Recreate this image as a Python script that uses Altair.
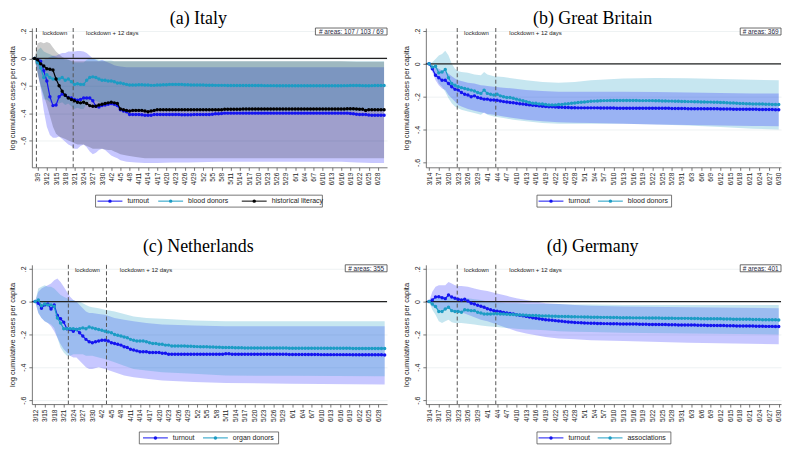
import altair as alt
import pandas as pd

# ---------------- data (day numbers counted from March 1 = 1) ----------------
it_start = 8
it_turnout = [0, -0.01, -0.02, -0.09, -0.165, -0.28, -0.345, -0.34, -0.28, -0.26,
 -0.27, -0.285, -0.29, -0.30, -0.305, -0.30, -0.29, -0.29, -0.29, -0.31,
 -0.35, -0.355, -0.345, -0.34, -0.335, -0.33, -0.335, -0.345, -0.375, -0.385,
 -0.39, -0.41, -0.41, -0.41, -0.41, -0.412, -0.415, -0.415, -0.415, -0.41,
 -0.41, -0.41, -0.41, -0.41, -0.41, -0.41, -0.41, -0.41, -0.412, -0.412,
 -0.412, -0.412, -0.41, -0.41, -0.41, -0.41, -0.41, -0.41, -0.408, -0.405,
 -0.405, -0.403, -0.40, -0.40, -0.40, -0.40, -0.40, -0.40, -0.40, -0.40,
 -0.40, -0.40, -0.40, -0.40, -0.40, -0.40, -0.40, -0.40, -0.40, -0.40,
 -0.40, -0.40, -0.40, -0.40, -0.40, -0.40, -0.40, -0.40, -0.40, -0.40,
 -0.40, -0.40, -0.40, -0.40, -0.40, -0.40, -0.40, -0.40, -0.40, -0.40,
 -0.40, -0.40, -0.40, -0.403, -0.405, -0.408, -0.41, -0.41, -0.41, -0.413,
 -0.415, -0.415, -0.415, -0.415, -0.415]
it_blood = [0, -0.03, -0.07, -0.14, -0.12, -0.14, -0.15, -0.15, -0.15, -0.14,
 -0.16, -0.15, -0.17, -0.19, -0.185, -0.19, -0.19, -0.16, -0.14, -0.135,
 -0.14, -0.15, -0.16, -0.16, -0.165, -0.165, -0.17, -0.18, -0.18, -0.185,
 -0.19, -0.195, -0.195, -0.195, -0.193, -0.193, -0.195, -0.195, -0.197, -0.197,
 -0.195, -0.195, -0.193, -0.192, -0.19, -0.19, -0.19, -0.19, -0.19, -0.192,
 -0.193, -0.194, -0.195, -0.195, -0.195, -0.195, -0.196, -0.196, -0.196, -0.197,
 -0.197, -0.197, -0.197, -0.198, -0.198, -0.198, -0.198, -0.198, -0.198, -0.198,
 -0.198, -0.198, -0.198, -0.198, -0.198, -0.199, -0.199, -0.199, -0.199, -0.2,
 -0.2, -0.2, -0.2, -0.2, -0.2, -0.2, -0.2, -0.2, -0.2, -0.2,
 -0.2, -0.2, -0.2, -0.2, -0.2, -0.2, -0.2, -0.2, -0.2, -0.2,
 -0.2, -0.199, -0.199, -0.198, -0.198, -0.198, -0.198, -0.199, -0.2, -0.2,
 -0.199, -0.198, -0.198, -0.198, -0.198]
it_literacy = [0, -0.01, -0.04, -0.055, -0.075, -0.08, -0.085, -0.15, -0.2, -0.24,
 -0.27, -0.29, -0.30, -0.31, -0.32, -0.325, -0.32, -0.33, -0.345, -0.35,
 -0.35, -0.34, -0.335, -0.33, -0.325, -0.32, -0.325, -0.33, -0.37, -0.375,
 -0.38, -0.385, -0.38, -0.38, -0.38, -0.38, -0.385, -0.39, -0.385, -0.38,
 -0.375, -0.375, -0.375, -0.375, -0.375, -0.375, -0.375, -0.375, -0.375, -0.375,
 -0.375, -0.375, -0.375, -0.375, -0.375, -0.375, -0.375, -0.375, -0.375, -0.375,
 -0.375, -0.375, -0.372, -0.372, -0.372, -0.372, -0.372, -0.372, -0.37, -0.37,
 -0.37, -0.37, -0.37, -0.37, -0.37, -0.37, -0.37, -0.37, -0.37, -0.37,
 -0.37, -0.37, -0.37, -0.37, -0.37, -0.37, -0.37, -0.37, -0.37, -0.37,
 -0.37, -0.37, -0.37, -0.37, -0.37, -0.37, -0.37, -0.37, -0.37, -0.37,
 -0.37, -0.37, -0.368, -0.368, -0.368, -0.37, -0.372, -0.372, -0.38, -0.375,
 -0.375, -0.375, -0.375, -0.375, -0.375]
it_band_days = [0, 1, 2, 3, 4, 5, 6, 7, 8, 9, 10, 11, 12, 13, 14, 15, 16, 17, 18, 19, 20,
 21, 22, 23, 24, 25, 26, 27, 28, 30, 33, 36, 40, 45, 50, 60, 70, 80, 90, 100, 105, 110, 114]
it_turnout_hi = [0, 0.0, -0.01, -0.01, 0.0, 0.01, 0.02, 0.02, 0.03, 0.04, 0.04, 0.05, 0.05, 0.05,
 0.055, 0.055, 0.05, 0.04, 0.02, 0.0, -0.01, -0.02, -0.01, -0.02, -0.03, -0.04, -0.05, -0.055, -0.06,
 -0.065, -0.065, -0.065, -0.065, -0.065, -0.065, -0.065, -0.065, -0.065, -0.065, -0.065, -0.065, -0.065, -0.065]
it_turnout_lo = [0, -0.1, -0.22, -0.38, -0.5, -0.56, -0.58, -0.58, -0.57, -0.59, -0.61, -0.63, -0.64,
 -0.66, -0.66, -0.64, -0.63, -0.65, -0.68, -0.7, -0.69, -0.67, -0.66, -0.67, -0.69, -0.71, -0.72, -0.73,
 -0.745, -0.755, -0.76, -0.765, -0.765, -0.76, -0.76, -0.755, -0.755, -0.755, -0.755, -0.755, -0.76, -0.765, -0.765]
it_blood_hi = [0, 0.06, 0.08, 0.05, 0.04, 0.03, 0.02, 0.01, 0.0, 0.0, -0.01, -0.01, -0.02, -0.03, -0.03,
 -0.03, -0.03, -0.01, 0.0, 0.0, -0.005, -0.01, -0.015, -0.015, -0.015, -0.015, -0.02, -0.02, -0.02,
 -0.02, -0.02, -0.02, -0.02, -0.02, -0.02, -0.02, -0.02, -0.02, -0.02, -0.02, -0.02, -0.02, -0.02]
it_blood_lo = [0, -0.1, -0.2, -0.3, -0.3, -0.32, -0.33, -0.33, -0.33, -0.32, -0.34, -0.33, -0.35, -0.37,
 -0.36, -0.37, -0.37, -0.33, -0.31, -0.3, -0.31, -0.32, -0.33, -0.33, -0.34, -0.34, -0.35, -0.355, -0.36,
 -0.37, -0.375, -0.38, -0.38, -0.38, -0.38, -0.38, -0.385, -0.385, -0.385, -0.385, -0.385, -0.385, -0.385]
it_literacy_hi = [0, 0.11, 0.12, 0.11, 0.12, 0.11, 0.08, 0.05, 0.03, 0.01, 0.0, -0.01, -0.015, -0.02,
 -0.02, -0.02, -0.02, -0.02, -0.02, -0.02, -0.02, -0.02, -0.02, -0.02, -0.02, -0.02, -0.02, -0.02, -0.02,
 -0.02, -0.02, -0.02, -0.02, -0.02, -0.02, -0.02, -0.02, -0.02, -0.02, -0.02, -0.025, -0.025, -0.025]
it_literacy_lo = [0, -0.12, -0.2, -0.27, -0.34, -0.42, -0.5, -0.55, -0.57, -0.58, -0.59, -0.6, -0.61,
 -0.62, -0.63, -0.63, -0.63, -0.64, -0.65, -0.66, -0.66, -0.66, -0.66, -0.665, -0.67, -0.67, -0.68, -0.69,
 -0.7, -0.71, -0.72, -0.73, -0.73, -0.73, -0.73, -0.73, -0.73, -0.73, -0.73, -0.73, -0.73, -0.73, -0.73]

gb_start = 14
gb_turnout = [0, -0.03, -0.07, -0.085, -0.1, -0.1, -0.12, -0.14, -0.155, -0.16,
 -0.175, -0.185, -0.19, -0.2, -0.195, -0.205, -0.21, -0.215, -0.215, -0.22,
 -0.22, -0.222, -0.226, -0.23, -0.232, -0.235, -0.237, -0.24, -0.243, -0.245,
 -0.248, -0.25, -0.252, -0.254, -0.256, -0.258, -0.26, -0.261, -0.262, -0.263,
 -0.264, -0.265, -0.266, -0.266, -0.267, -0.267, -0.268, -0.268, -0.268, -0.268,
 -0.268, -0.268, -0.268, -0.269, -0.269, -0.269, -0.269, -0.269, -0.27, -0.27,
 -0.27, -0.27, -0.27, -0.27, -0.27, -0.27, -0.27, -0.27, -0.27, -0.27,
 -0.27, -0.271, -0.271, -0.271, -0.271, -0.272, -0.272, -0.272, -0.272, -0.272,
 -0.273, -0.273, -0.273, -0.273, -0.273, -0.274, -0.274, -0.274, -0.274, -0.274,
 -0.275, -0.275, -0.275, -0.275, -0.276, -0.276, -0.276, -0.276, -0.277, -0.277,
 -0.277, -0.277, -0.278, -0.278, -0.278, -0.278, -0.278, -0.279, -0.279]
gb_blood = [0, -0.02, -0.015, -0.055, -0.05, -0.035, -0.085, -0.12, -0.13, -0.14,
 -0.145, -0.15, -0.155, -0.16, -0.165, -0.175, -0.18, -0.16, -0.18, -0.185,
 -0.19, -0.185, -0.195, -0.2, -0.205, -0.205, -0.21, -0.215, -0.22, -0.225,
 -0.23, -0.235, -0.24, -0.24, -0.245, -0.245, -0.248, -0.25, -0.25, -0.25,
 -0.248, -0.247, -0.245, -0.243, -0.24, -0.238, -0.236, -0.234, -0.232, -0.23,
 -0.228, -0.227, -0.226, -0.225, -0.224, -0.224, -0.223, -0.223, -0.223, -0.223,
 -0.223, -0.223, -0.223, -0.223, -0.223, -0.224, -0.224, -0.224, -0.224, -0.224,
 -0.225, -0.225, -0.226, -0.226, -0.227, -0.227, -0.228, -0.228, -0.229, -0.229,
 -0.23, -0.23, -0.231, -0.231, -0.232, -0.232, -0.233, -0.233, -0.234, -0.234,
 -0.235, -0.236, -0.237, -0.238, -0.239, -0.24, -0.241, -0.242, -0.243, -0.243,
 -0.244, -0.244, -0.245, -0.245, -0.246, -0.246, -0.247, -0.247, -0.248]
gb_band_days = [0, 1, 2, 3, 4, 5, 6, 7, 8, 9, 10, 12, 14, 16, 17, 18, 20, 23, 26, 30, 35, 40, 45, 50,
 60, 70, 80, 90, 100, 108]
gb_turnout_hi = [0, -0.01, -0.02, -0.03, -0.04, -0.045, -0.06, -0.075, -0.09, -0.1, -0.105, -0.115,
 -0.12, -0.13, -0.132, -0.135, -0.14, -0.145, -0.15, -0.16, -0.165, -0.17, -0.17, -0.17, -0.17, -0.172,
 -0.175, -0.177, -0.18, -0.18]
gb_turnout_lo = [0, -0.05, -0.1, -0.13, -0.15, -0.16, -0.19, -0.21, -0.23, -0.25, -0.26, -0.275, -0.285,
 -0.295, -0.3, -0.305, -0.31, -0.32, -0.33, -0.34, -0.35, -0.355, -0.358, -0.36, -0.365, -0.37, -0.372,
 -0.375, -0.378, -0.38]
gb_blood_hi = [0, 0.01, 0.03, 0.05, 0.06, 0.08, 0.05, 0.0, -0.03, -0.045, -0.05, -0.055, -0.065, -0.07,
 -0.05, -0.065, -0.075, -0.08, -0.09, -0.1, -0.11, -0.115, -0.11, -0.1, -0.09, -0.087, -0.088, -0.092,
 -0.097, -0.1]
gb_blood_lo = [0, -0.04, -0.07, -0.12, -0.14, -0.17, -0.21, -0.24, -0.26, -0.27, -0.28, -0.29, -0.3,
 -0.31, -0.295, -0.31, -0.32, -0.33, -0.34, -0.35, -0.36, -0.365, -0.365, -0.365, -0.365, -0.37, -0.375,
 -0.385, -0.395, -0.4]

nl_start = 12
nl_turnout = [0, -0.01, -0.04, -0.02, -0.015, -0.045, -0.02, -0.085, -0.105, -0.125,
 -0.165, -0.17, -0.18, -0.17, -0.19, -0.21, -0.23, -0.245, -0.25, -0.245,
 -0.24, -0.235, -0.235, -0.24, -0.25, -0.255, -0.26, -0.265, -0.275, -0.28,
 -0.29, -0.295, -0.3, -0.305, -0.305, -0.305, -0.31, -0.31, -0.31, -0.31,
 -0.315, -0.315, -0.32, -0.32, -0.32, -0.32, -0.32, -0.32, -0.32, -0.32,
 -0.32, -0.32, -0.32, -0.32, -0.32, -0.32, -0.32, -0.32, -0.32, -0.32,
 -0.318, -0.318, -0.32, -0.32, -0.32, -0.32, -0.32, -0.32, -0.32, -0.32,
 -0.32, -0.32, -0.32, -0.32, -0.32, -0.321, -0.321, -0.321, -0.321, -0.321,
 -0.322, -0.322, -0.322, -0.322, -0.322, -0.322, -0.322, -0.322, -0.322, -0.322,
 -0.323, -0.323, -0.323, -0.323, -0.323, -0.323, -0.323, -0.323, -0.323, -0.323,
 -0.324, -0.324, -0.324, -0.324, -0.324, -0.324, -0.324, -0.324, -0.324, -0.324,
 -0.325]
nl_organ = [0, 0.01, -0.025, -0.015, -0.02, -0.02, -0.03, -0.1, -0.13, -0.165,
 -0.165, -0.165, -0.165, -0.17, -0.165, -0.16, -0.165, -0.155, -0.16, -0.165,
 -0.17, -0.175, -0.18, -0.185, -0.19, -0.2, -0.205, -0.21, -0.215, -0.22,
 -0.23, -0.235, -0.24, -0.24, -0.24, -0.245, -0.25, -0.255, -0.255, -0.26,
 -0.26, -0.265, -0.265, -0.27, -0.27, -0.27, -0.27, -0.27, -0.272, -0.272,
 -0.273, -0.274, -0.275, -0.275, -0.275, -0.276, -0.277, -0.278, -0.278, -0.279,
 -0.28, -0.28, -0.28, -0.281, -0.281, -0.281, -0.282, -0.282, -0.282, -0.282,
 -0.283, -0.283, -0.283, -0.283, -0.283, -0.283, -0.283, -0.283, -0.283, -0.283,
 -0.284, -0.284, -0.284, -0.284, -0.284, -0.284, -0.284, -0.284, -0.284, -0.284,
 -0.284, -0.284, -0.284, -0.284, -0.284, -0.284, -0.284, -0.284, -0.284, -0.284,
 -0.285, -0.285, -0.285, -0.285, -0.285, -0.285, -0.285, -0.285, -0.285, -0.285,
 -0.285]
nl_band_days = [0, 1, 2, 3, 4, 5, 6, 7, 8, 9, 10, 11, 12, 13, 14, 15, 16, 17, 18, 20, 22, 25, 28, 31,
 35, 40, 50, 60, 80, 110]
nl_turnout_hi = [0, 0.06, 0.08, 0.09, 0.1, 0.11, 0.13, 0.14, 0.12, 0.09, 0.06, 0.03, 0.01, 0.0, -0.02,
 -0.04, -0.06, -0.07, -0.07, -0.075, -0.08, -0.1, -0.11, -0.12, -0.13, -0.14, -0.145, -0.15, -0.15, -0.15]
nl_turnout_lo = [0, -0.07, -0.1, -0.12, -0.13, -0.15, -0.18, -0.22, -0.26, -0.29, -0.31, -0.33, -0.34,
 -0.34, -0.36, -0.38, -0.4, -0.41, -0.41, -0.4, -0.41, -0.43, -0.45, -0.46, -0.47, -0.48, -0.49, -0.495,
 -0.5, -0.505]
nl_organ_hi = [0, 0.08, 0.09, 0.1, 0.09, 0.09, 0.08, 0.06, 0.04, 0.03, 0.02, 0.01, 0.01, 0.0, 0.0, -0.01,
 -0.02, -0.03, -0.035, -0.04, -0.05, -0.06, -0.075, -0.09, -0.1, -0.105, -0.115, -0.12, -0.12, -0.12]
nl_organ_lo = [0, -0.07, -0.1, -0.12, -0.13, -0.14, -0.16, -0.22, -0.28, -0.31, -0.33, -0.33, -0.32,
 -0.32, -0.32, -0.32, -0.33, -0.33, -0.33, -0.34, -0.35, -0.37, -0.39, -0.41, -0.42, -0.43, -0.44, -0.45,
 -0.452, -0.455]

de_start = 14
de_turnout = [0, 0.01, 0.028, 0.03, 0.024, 0.018, 0.04, 0.028, 0.02, 0.014,
 0.01, 0.014, 0.004, -0.01, -0.015, -0.022, -0.028, -0.035, -0.043, -0.05,
 -0.055, -0.058, -0.062, -0.066, -0.07, -0.073, -0.076, -0.08, -0.083, -0.086,
 -0.09, -0.094, -0.098, -0.101, -0.104, -0.107, -0.11, -0.112, -0.114, -0.116,
 -0.118, -0.12, -0.122, -0.124, -0.125, -0.127, -0.128, -0.129, -0.13, -0.131,
 -0.132, -0.132, -0.133, -0.133, -0.134, -0.134, -0.135, -0.135, -0.135, -0.136,
 -0.136, -0.136, -0.137, -0.137, -0.137, -0.138, -0.138, -0.138, -0.139, -0.139,
 -0.139, -0.14, -0.14, -0.14, -0.141, -0.141, -0.141, -0.142, -0.142, -0.142,
 -0.143, -0.143, -0.143, -0.144, -0.144, -0.144, -0.145, -0.145, -0.145, -0.146,
 -0.146, -0.146, -0.147, -0.147, -0.147, -0.148, -0.148, -0.148, -0.149, -0.149,
 -0.149, -0.15, -0.15, -0.15, -0.151, -0.151, -0.151, -0.152, -0.152]
de_assoc = [0, -0.015, -0.03, -0.06, -0.06, -0.045, -0.035, -0.055, -0.06, -0.06,
 -0.065, -0.05, -0.052, -0.055, -0.055, -0.065, -0.07, -0.075, -0.076, -0.075,
 -0.074, -0.074, -0.075, -0.076, -0.077, -0.078, -0.079, -0.08, -0.081, -0.082,
 -0.083, -0.084, -0.085, -0.085, -0.086, -0.087, -0.087, -0.088, -0.089, -0.089,
 -0.09, -0.09, -0.091, -0.091, -0.092, -0.092, -0.093, -0.093, -0.094, -0.094,
 -0.095, -0.095, -0.095, -0.096, -0.096, -0.096, -0.097, -0.097, -0.097, -0.098,
 -0.098, -0.098, -0.098, -0.099, -0.099, -0.099, -0.099, -0.1, -0.1, -0.1,
 -0.1, -0.1, -0.101, -0.101, -0.101, -0.101, -0.102, -0.102, -0.102, -0.102,
 -0.102, -0.103, -0.103, -0.103, -0.104, -0.104, -0.104, -0.105, -0.105, -0.105,
 -0.105, -0.106, -0.106, -0.106, -0.107, -0.107, -0.107, -0.108, -0.108, -0.108,
 -0.109, -0.109, -0.109, -0.11, -0.11, -0.11, -0.111, -0.111, -0.112]
de_band_days = [0, 1, 2, 3, 4, 5, 6, 7, 8, 9, 10, 12, 14, 16, 18, 21, 24, 27, 30, 33, 36, 40, 45, 50,
 60, 80, 108]
de_turnout_hi = [0, 0.06, 0.09, 0.1, 0.1, 0.1, 0.12, 0.11, 0.1, 0.095, 0.095, 0.09, 0.08, 0.07, 0.065,
 0.05, 0.035, 0.02, 0.01, 0.0, -0.01, -0.015, -0.02, -0.025, -0.03, -0.035, -0.04]
de_turnout_lo = [0, -0.03, -0.04, -0.05, -0.05, -0.05, -0.04, -0.05, -0.06, -0.06, -0.065, -0.08, -0.095,
 -0.11, -0.12, -0.14, -0.16, -0.18, -0.195, -0.205, -0.215, -0.225, -0.23, -0.235, -0.24, -0.25, -0.26]
de_assoc_hi = [0, 0.01, 0.02, 0.02, 0.03, 0.03, 0.03, 0.03, 0.02, 0.02, 0.02, 0.02, 0.015, 0.01, 0.0,
 -0.005, -0.01, -0.01, -0.015, -0.015, -0.015, -0.015, -0.017, -0.018, -0.02, -0.02, -0.02]
de_assoc_lo = [0, -0.05, -0.08, -0.12, -0.13, -0.12, -0.11, -0.125, -0.13, -0.13, -0.13, -0.135, -0.14,
 -0.145, -0.15, -0.155, -0.16, -0.165, -0.17, -0.172, -0.175, -0.18, -0.183, -0.185, -0.19, -0.195, -0.2]

# lockdown dates (March day numbers) as drawn
it_lock = [8.6, 20.6]
gb_lock = [22.7, 34.6]
nl_lock = [22.45, 34.45]
de_lock = [22.7, 34.6]

# tick labels every 3 days
it_ticks = list(range(9, 121, 3))
gb_ticks = list(range(14, 123, 3))
nl_ticks = list(range(12, 121, 3))
de_ticks = list(range(14, 123, 3))
y_ticks = [-0.6, -0.4, -0.2, 0, 0.2]
zero_line = [0]

# ---------------- styling ----------------
SANS = "Liberation Sans"
SERIF = "Liberation Serif"
W, H = 357, 140
C_TURN = "#1414f0"
C_BLOOD = "#1c9cc4"
C_LIT = "#000000"
BAND_TURN = ("#0000ff", 0.22)
BAND_BLOOD = ("#1c9cc4", 0.25)
BAND_LIT = ("#000000", 0.2)

ONE = pd.DataFrame({"a": [0]})


def line_df(start, vals):
    return pd.DataFrame({"day": [start + i for i in range(len(vals))], "v": vals})


def band_df(start, days, hi, lo):
    return pd.DataFrame({"day": [start + d for d in days], "hi": hi, "lo": lo})


def panel(title, start, xdom, ticks, ydom, lines, band_days, bands, lock,
          areas, areas_w, leg_left, leg_w, leg_items, title_offset):
    xs = alt.Scale(domain=xdom, nice=False, zero=False)
    ys = alt.Scale(domain=ydom, nice=False, zero=False)
    xax = alt.Axis(values=ticks, title=None, grid=False,
                   labelExpr="timeFormat(datetime(2020, 2, datum.value), '%-m/%-d')",
                   labelAngle=270, labelAlign="right", labelBaseline="middle",
                   labelFontSize=6.5, labelPadding=2, tickSize=3, labelFlush=False,
                   labelOverlap=False)
    yax = alt.Axis(values=y_ticks, title="log cumulative cases per capita",
                   labelExpr="datum.value == 0 ? '0' : (datum.value < 0 ? '-' : '') + replace(format(abs(datum.value), '.1f'), '0.', '.')",
                   labelAngle=270, labelAlign="center", labelBaseline="bottom",
                   labelFontSize=7, labelPadding=2, tickSize=3, titleFontSize=7.5,
                   titleFontWeight="normal", titlePadding=3, grid=True,
                   gridColor="#e9eff0", gridWidth=0.8, labelFlush=False,
                   labelOverlap=False, labelSeparation=0)
    X = alt.X("day:Q", scale=xs, axis=xax)

    def Y(f):
        return alt.Y(f, scale=ys, axis=yax)

    layers = []
    for hi, lo, (col, op) in bands:
        layers.append(alt.Chart(band_df(start, band_days, hi, lo)).mark_area(
            color=col, opacity=op, line=False).encode(x=X, y=Y("hi:Q"), y2="lo:Q"))
    layers.append(alt.Chart(pd.DataFrame({"v": zero_line})).mark_rule(
        color="#222222", strokeWidth=1.1).encode(y=Y("v:Q")))
    layers.append(alt.Chart(pd.DataFrame({"day": lock})).mark_rule(
        color="#555555", strokeWidth=1, strokeDash=[4, 2.5]).encode(x=X))
    for vals, col in lines:
        layers.append(alt.Chart(line_df(start, vals)).mark_line(
            color=col, strokeWidth=1.2,
            point=alt.OverlayMarkDef(filled=True, size=12, color=col)).encode(x=X, y=Y("v:Q")))
    # lockdown labels
    layers.append(alt.Chart(pd.DataFrame({"day": [(lock[0] + lock[1]) / 2]})).mark_text(
        text="lockdown", font=SANS, fontSize=6, color="#222", align="center", baseline="middle"
    ).encode(x=X, y=alt.value(5)))
    layers.append(alt.Chart(pd.DataFrame({"day": [lock[1] + 4.2]})).mark_text(
        text="lockdown + 12 days", font=SANS, fontSize=6, color="#222", align="left",
        baseline="middle").encode(x=X, y=alt.value(5)))
    # number of areas box
    layers.append(alt.Chart(ONE).mark_rect(fill="white", stroke="#444", strokeWidth=0.8).encode(
        x=alt.value(W - areas_w), x2=alt.value(W), y=alt.value(0), y2=alt.value(7)))
    layers.append(alt.Chart(ONE).mark_text(text=areas, font=SANS, fontSize=6.5, color="#1f2a44",
                                           align="center", baseline="middle").encode(
        x=alt.value(W - areas_w / 2), y=alt.value(3.8)))
    # legend
    ly = H + 34
    layers.append(alt.Chart(ONE).mark_rect(fill="white", stroke="#555", strokeWidth=0.8).encode(
        x=alt.value(leg_left), x2=alt.value(leg_left + leg_w), y=alt.value(H + 28),
        y2=alt.value(H + 40)))
    for off, lab, col in leg_items:
        x0 = leg_left + off
        layers.append(alt.Chart(ONE).mark_rule(color=col, strokeWidth=1).encode(
            x=alt.value(x0), x2=alt.value(x0 + 25), y=alt.value(ly)))
        layers.append(alt.Chart(ONE).mark_point(filled=True, size=12, color=col, opacity=1).encode(
            x=alt.value(x0 + 12.5), y=alt.value(ly)))
        layers.append(alt.Chart(ONE).mark_text(text=lab, font=SANS, fontSize=7, color="#222",
                                               align="left", baseline="middle").encode(
            x=alt.value(x0 + 30), y=alt.value(ly)))
    return alt.layer(*layers).properties(
        width=W, height=H,
        title=alt.TitleParams(title, font=SERIF, fontSize=18, fontWeight="normal",
                              anchor="middle", frame="bounds", offset=title_offset,
                              color="black"))


pa = panel("(a) Italy", it_start, [7.12, 122.97], it_ticks, [-0.796, 0.222],
           [(it_turnout, C_TURN), (it_blood, C_BLOOD), (it_literacy, C_LIT)],
           it_band_days,
           [(it_turnout_hi, it_turnout_lo, BAND_TURN), (it_blood_hi, it_blood_lo, BAND_BLOOD),
            (it_literacy_hi, it_literacy_lo, BAND_LIT)],
           it_lock, "# areas: 107 / 103 / 69", 72, 64, 228,
           [(2, "turnout", C_TURN), (63, "blood donors", C_BLOOD), (147, "historical literacy", C_LIT)],
           0)
pb = panel("(b) Great Britain", gb_start, [13.0, 122.7], gb_ticks, [-0.63, 0.218],
           [(gb_turnout, C_TURN), (gb_blood, C_BLOOD)],
           gb_band_days,
           [(gb_blood_hi, gb_blood_lo, BAND_BLOOD), (gb_turnout_hi, gb_turnout_lo, BAND_TURN)],
           gb_lock, "# areas: 369", 41, 111.7, 135.3,
           [(1.6, "turnout", C_TURN), (61.3, "blood donors", C_BLOOD)],
           0)
pc = panel("(c) Netherlands", nl_start, [10.97, 122.75], nl_ticks, [-0.624, 0.224],
           [(nl_turnout, C_TURN), (nl_organ, C_BLOOD)],
           nl_band_days,
           [(nl_turnout_hi, nl_turnout_lo, BAND_TURN), (nl_organ_hi, nl_organ_lo, BAND_BLOOD)],
           nl_lock, "# areas: 355", 42, 108, 140,
           [(3.7, "turnout", C_TURN), (64, "organ donors", C_BLOOD)],
           8)
pd_ = panel("(d) Germany", de_start, [13.0, 122.7], de_ticks, [-0.624, 0.224],
            [(de_turnout, C_TURN), (de_assoc, C_BLOOD)],
            de_band_days,
            [(de_turnout_hi, de_turnout_lo, BAND_TURN), (de_assoc_hi, de_assoc_lo, BAND_BLOOD)],
            de_lock, "# areas: 401", 41, 111.7, 134.6,
            [(1.6, "turnout", C_TURN), (61, "associations", C_BLOOD)],
            8)

row1 = alt.hconcat(pa, pb, spacing=15)
row2 = alt.hconcat(pc, pd_, spacing=15)
chart = alt.vconcat(row1, row2, spacing=30).properties(
    padding=0, background="white"
).configure_view(stroke=None).configure_axis(
    labelFont=SANS, titleFont=SANS, labelColor="#222", titleColor="#222",
    domainColor="#555", domainWidth=0.8, tickColor="#555", tickWidth=0.8,
    labelOverlap=False
)

chart.save("out.html", embed_options={"renderer": "svg", "actions": False})
